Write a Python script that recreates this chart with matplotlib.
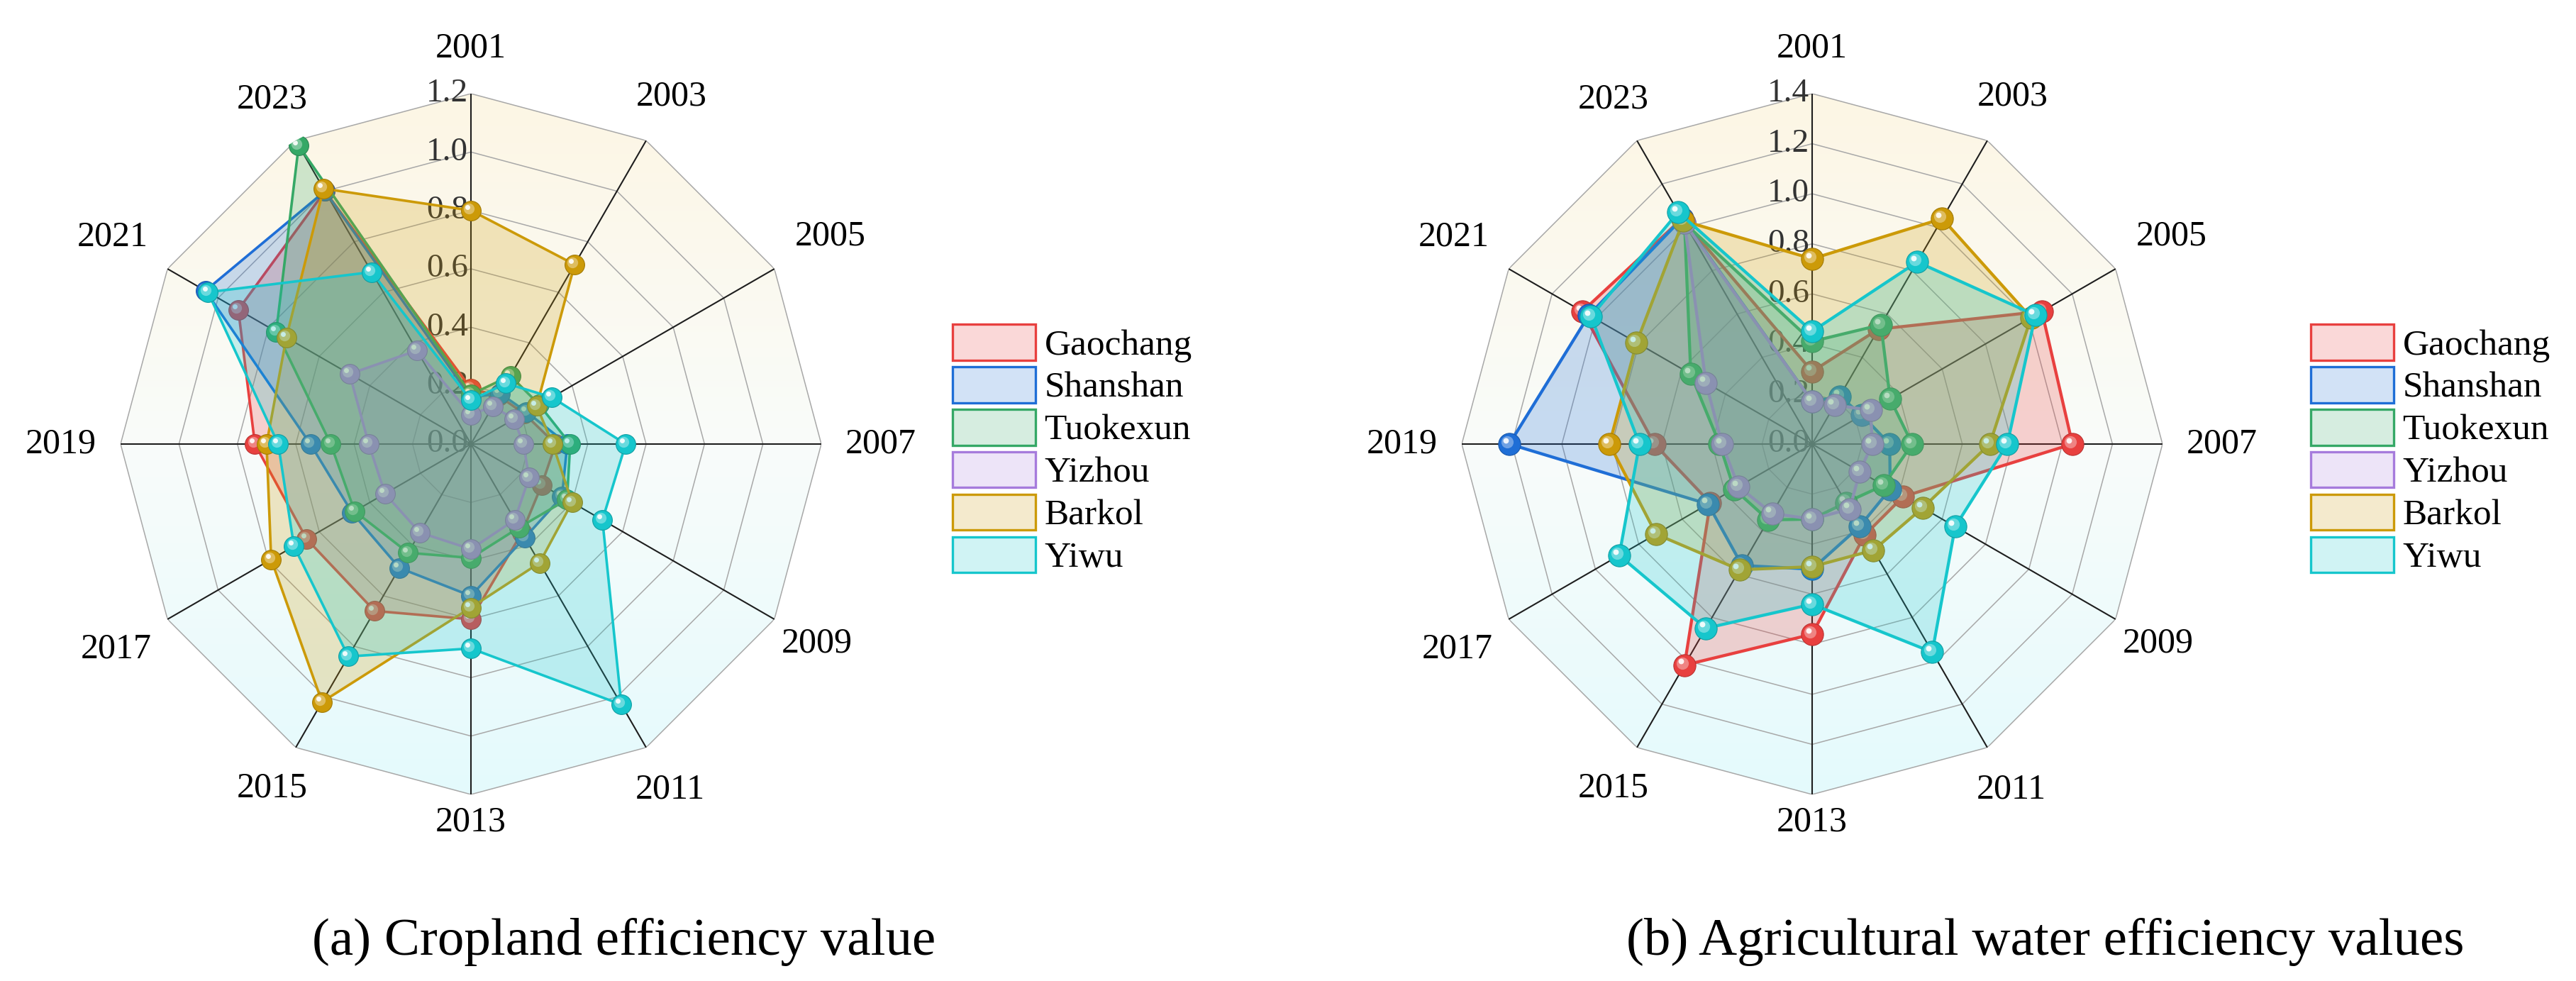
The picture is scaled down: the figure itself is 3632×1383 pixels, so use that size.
import numpy as np
import matplotlib
matplotlib.use('Agg')
import matplotlib.pyplot as plt
import matplotlib.colors as mcolors
from matplotlib.patches import Patch, Polygon
from matplotlib.transforms import offset_copy

plt.rcParams['font.family'] = ['Liberation Serif', 'DejaVu Serif']

years = ['2001', '2003', '2005', '2007', '2009', '2011',
         '2013', '2015', '2017', '2019', '2021', '2023']
stations = ['Gaochang', 'Shanshan', 'Tuokexun', 'Yizhou', 'Barkol', 'Yiwu']
colors = ['#e8403f', '#1f6ed6', '#35a866', '#a67bdc', '#cc9a08', '#16c6cc']

# (a) cropland efficiency value
gaochang_a = [0.19, 0.19, 0.21, 0.29, 0.28, 0.35, 0.60, 0.66, 0.65, 0.74, 0.92, 1.00]
shanshan_a = [0.16, 0.20, 0.22, 0.33, 0.36, 0.37, 0.52, 0.49, 0.47, 0.55, 1.05, 1.00]
tuokexun_a = [0.17, 0.27, 0.27, 0.34, 0.38, 0.33, 0.39, 0.43, 0.46, 0.48, 0.77, 1.18]
yizhou_a = [0.10, 0.15, 0.17, 0.18, 0.23, 0.30, 0.36, 0.35, 0.34, 0.35, 0.48, 0.37]
barkol_a = [0.80, 0.71, 0.26, 0.28, 0.40, 0.47, 0.56, 1.02, 0.79, 0.70, 0.73, 1.01]
yiwu_a = [0.15, 0.24, 0.32, 0.53, 0.52, 1.03, 0.70, 0.84, 0.70, 0.66, 1.04, 0.68]

# (b) agricultural water efficiency values
gaochang_b = [0.29, 0.53, 1.06, 1.04, 0.42, 0.42, 0.76, 1.02, 0.47, 0.63, 1.06, 1.04]
shanshan_b = [0.17, 0.22, 0.23, 0.31, 0.36, 0.38, 0.50, 0.56, 0.48, 1.21, 1.03, 1.04]
tuokexun_b = [0.41, 0.55, 0.36, 0.40, 0.33, 0.27, 0.30, 0.35, 0.36, 0.37, 0.56, 1.02]
yizhou_b = [0.17, 0.18, 0.27, 0.24, 0.22, 0.30, 0.30, 0.32, 0.34, 0.36, 0.49, 1.02]
barkol_b = [0.74, 1.04, 1.01, 0.71, 0.51, 0.49, 0.49, 0.58, 0.72, 0.81, 0.81, 1.03]
yiwu_b = [0.45, 0.84, 1.03, 0.78, 0.66, 0.96, 0.64, 0.85, 0.89, 0.69, 1.02, 1.07]

cropland = [gaochang_a, shanshan_a, tuokexun_a, yizhou_a, barkol_a, yiwu_a]
water = [gaochang_b, shanshan_b, tuokexun_b, yizhou_b, barkol_b, yiwu_b]

W, H = 3632, 1383
fig = plt.figure(figsize=(W / 100, H / 100), dpi=100)

# where the year labels sit, as a fraction of the outer radius
lab_f = [1.13, 1.145, 1.185, 1.17, 1.14, 1.138, 1.08, 1.134, 1.17, 1.17, 1.18, 1.135]


def shade(c, f):
    rgb = np.array(mcolors.to_rgb(c))
    if f < 0:
        return tuple(rgb * (1 + f))
    return tuple(rgb + (1 - rgb) * f)


def balls(ax, th, rr, c, ms, z):
    ax.plot(th, rr, 'o', ms=ms, mfc=c, mec=shade(c, -0.2), mew=0.8, zorder=z)
    t1 = offset_copy(ax.transData, fig=fig, x=-ms * 0.1, y=ms * 0.1, units='points')
    ax.plot(th, rr, 'o', ms=ms * 0.55, mfc=shade(c, 0.45), mec='none', alpha=0.8,
            transform=t1, zorder=z + 0.01)
    t2 = offset_copy(ax.transData, fig=fig, x=-ms * 0.17, y=ms * 0.17, units='points')
    ax.plot(th, rr, 'o', ms=ms * 0.25, mfc='white', mec='none', alpha=0.9,
            transform=t2, zorder=z + 0.02)


def radar(cx, cy, rad, data, rmax, ms, lw):
    rect = [(cx - rad) / W, (H - cy - rad) / H, 2 * rad / W, 2 * rad / H]
    n = len(years)
    ang = np.arange(n) * 2 * np.pi / n

    # gradient background inside the dodecagon
    bg = fig.add_axes(rect, zorder=0)
    bg.set_xlim(-1, 1)
    bg.set_ylim(-1, 1)
    bg.axis('off')
    poly = Polygon(np.column_stack([np.sin(ang), np.cos(ang)]), closed=True,
                   transform=bg.transData, fc='none', ec='none')
    bg.add_patch(poly)
    t = np.linspace(0, 1, 256)
    bot = np.array([228, 250, 253]) / 255
    mid = np.array([249, 252, 250]) / 255
    top = np.array([253, 246, 228]) / 255
    grad = np.where(t[:, None] < 0.5,
                    bot + (mid - bot) * (t[:, None] / 0.5),
                    mid + (top - mid) * ((t[:, None] - 0.5) / 0.5))
    im = bg.imshow(grad[:, None, :], extent=[-1, 1, -1, 1], origin='lower', aspect='auto')
    im.set_clip_path(poly)

    ax = fig.add_axes(rect, projection='polar', zorder=1)
    ax.patch.set_alpha(0)
    ax.set_theta_zero_location('N')
    ax.set_theta_direction(-1)
    ax.set_ylim(0, rmax)
    ax.grid(False)
    ax.set_xticks([])
    ax.set_yticks([])
    ax.spines['polar'].set_visible(False)

    th = np.append(ang, ang[0])
    levels = np.arange(0, rmax + 1e-9, 0.2)
    for lv in levels[1:]:
        ax.plot(th, [lv] * len(th), color='#a8a8a8', lw=1.1, zorder=1)
    for a in ang:
        ax.plot([a, a], [0, rmax], color='#1e1e1e', lw=1.5, zorder=1.2)

    tick_tr = offset_copy(ax.transData, fig=fig, x=-4, y=0, units='dots')
    for lv in levels:
        ax.text(0, lv, f'{lv:.1f}', ha='right', va='center', fontsize=34,
                color='#333333', zorder=1.5, transform=tick_tr)
    for i, a in enumerate(ang):
        ax.text(a, rmax * lab_f[i], years[i], ha='center', va='center', fontsize=36)

    # each station drawn fully (fill, line, balls) on top of the previous one
    for k, (vals, c) in enumerate(zip(data, colors)):
        z = 3 + k
        rr = np.append(vals, vals[0])
        ax.fill(th, rr, color=c, alpha=0.23, lw=0, zorder=z)
        ax.plot(th, rr, color=c, lw=lw, zorder=z + 0.1)
        balls(ax, ang, vals, c, ms, z + 0.2)
    return ax


radar(664, 626, 494, cropland, 1.2, 20, 2.6)
radar(2555, 626, 494, water, 1.4, 22.5, 3.1)

handles = [Patch(facecolor=mcolors.to_rgba(c, 0.2), edgecolor=c, linewidth=2.4) for c in colors]
for x0 in (1343, 3258):
    fig.legend(handles, stations, loc='upper left', bbox_to_anchor=(x0 / W, (H - 457) / H),
               frameon=False, fontsize=37, handlelength=2.27, handleheight=1.14,
               handletextpad=0.25, labelspacing=0.12, borderpad=0, borderaxespad=0)

fig.text(880 / W, (H - 1346) / H, '(a) Cropland efficiency value',
         ha='center', va='baseline', fontsize=54)
fig.text(2884 / W, (H - 1346) / H, '(b) Agricultural water efficiency values',
         ha='center', va='baseline', fontsize=54)

fig.savefig('out.png', dpi=100, facecolor='white')
